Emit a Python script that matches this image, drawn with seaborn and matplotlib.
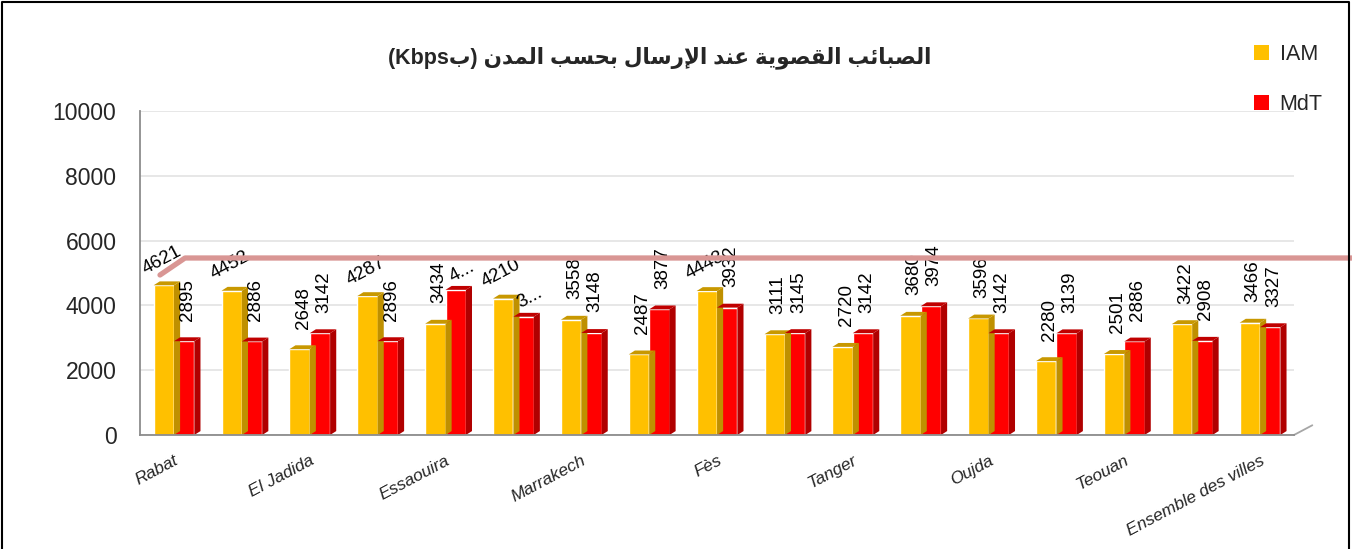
import numpy as np
import pandas as pd
import matplotlib
matplotlib.use("Agg")
import matplotlib.pyplot as plt
import seaborn as sns
from matplotlib.patches import Polygon, Patch
from matplotlib.lines import Line2D

# ---- data ----
city_labels = ["Rabat", "", "El Jadida", "", "Essaouira", "", "Marrakech", "", "Fès", "",
               "Tanger", "", "Oujda", "", "Teouan", "", "Ensemble des villes"]
iam_values = [4621, 4452, 2648, 4287, 3434, 4210, 3558, 2487, 4443, 3111,
              2720, 3680, 3596, 2280, 2501, 3422, 3466]
mdt_values = [2895, 2886, 3142, 2896, 4480, 3650, 3148, 3877, 3932, 3145,
              3142, 3974, 3142, 3139, 2886, 2908, 3327]
operators = ["IAM", "MdT"]
title_words = ["الصبائب", "القصوية", "عند", "الإرسال", "بحسب", "المدن"]

# data labels that Excel drew slanted / truncated
slanted = {("IAM", 0), ("IAM", 1), ("IAM", 3), ("IAM", 5), ("IAM", 8), ("MdT", 4), ("MdT", 5)}
truncated = {("MdT", 4): "4...", ("MdT", 5): "3..."}

# ---- tiny Arabic shaper (matplotlib has no complex text layout) ----
AR_FORMS = {  # isolated, final, initial, medial
    'ا': ('\uFE8D', '\uFE8E', None, None),
    'إ': ('\uFE87', '\uFE88', None, None),
    'ب': ('\uFE8F', '\uFE90', '\uFE91', '\uFE92'),
    'ة': ('\uFE93', '\uFE94', None, None),
    'ح': ('\uFEA1', '\uFEA2', '\uFEA3', '\uFEA4'),
    'د': ('\uFEA9', '\uFEAA', None, None),
    'ر': ('\uFEAD', '\uFEAE', None, None),
    'س': ('\uFEB1', '\uFEB2', '\uFEB3', '\uFEB4'),
    'ص': ('\uFEB9', '\uFEBA', '\uFEBB', '\uFEBC'),
    'ع': ('\uFEC9', '\uFECA', '\uFECB', '\uFECC'),
    'ق': ('\uFED5', '\uFED6', '\uFED7', '\uFED8'),
    'ل': ('\uFEDD', '\uFEDE', '\uFEDF', '\uFEE0'),
    'م': ('\uFEE1', '\uFEE2', '\uFEE3', '\uFEE4'),
    'ن': ('\uFEE5', '\uFEE6', '\uFEE7', '\uFEE8'),
    'و': ('\uFEED', '\uFEEE', None, None),
    'ي': ('\uFEF1', '\uFEF2', '\uFEF3', '\uFEF4'),
    'ئ': ('\uFE89', '\uFE8A', '\uFE8B', '\uFE8C'),
}
LAM_ALEF = {'ا': ('\uFEFB', '\uFEFC'), 'إ': ('\uFEF9', '\uFEFA')}


def shape_word(word):
    units = []
    i = 0
    while i < len(word):
        if word[i] == 'ل' and i + 1 < len(word) and word[i + 1] in LAM_ALEF:
            units.append(('LA', word[i + 1]))
            i += 2
        else:
            units.append((word[i], None))
            i += 1

    def dual(u):
        return u[0] != 'LA' and u[0] in AR_FORMS and AR_FORMS[u[0]][2] is not None

    def joins(u):
        return u[0] == 'LA' or u[0] in AR_FORMS

    out = []
    for k, u in enumerate(units):
        prev_j = k > 0 and dual(units[k - 1]) and joins(u)
        next_j = k + 1 < len(units) and dual(u) and joins(units[k + 1])
        if u[0] == 'LA':
            out.append(LAM_ALEF[u[1]][1 if prev_j else 0])
        elif u[0] in AR_FORMS:
            f = AR_FORMS[u[0]]
            if prev_j and next_j:
                out.append(f[3])
            elif prev_j:
                out.append(f[1])
            elif next_j:
                out.append(f[2])
            else:
                out.append(f[0])
        else:
            out.append(u[0])
    return ''.join(reversed(out))


title_visual = "(Kbps" + shape_word("ب") + ") " + " ".join(shape_word(w) for w in reversed(title_words))

# ---- tidy frame ----
slots = [str(i) for i in range(len(city_labels))]
df = pd.DataFrame({
    "slot": slots * 2,
    "operator": ["IAM"] * len(slots) + ["MdT"] * len(slots),
    "value": iam_values + mdt_values,
})

colors = {"IAM": "#FFC000", "MdT": "#FF0000"}
side_colors = {"IAM": "#BF9000", "MdT": "#B00000"}
top_colors = {"IAM": "#C89800", "MdT": "#C00000"}

sns.set_style("white")
plt.rcParams['font.family'] = ['Liberation Sans', 'DejaVu Sans']

fig = plt.figure(figsize=(13.52, 5.49), dpi=100)
ax = fig.add_axes([0.1036, 0.2077, 0.8535, 0.5901])

sns.barplot(data=df, x="slot", y="value", hue="operator", order=slots,
            hue_order=operators, palette=colors, width=0.6, saturation=1,
            legend=False, ax=ax)

ax.set_xlim(-0.5, len(slots) - 0.5)
ax.set_ylim(0, 10000)
ax.set_yticks(np.arange(0, 10001, 2000))
ax.yaxis.grid(True, color="#E3E3E3", lw=1.2)
ax.set_axisbelow(True)

# fake 3D side and top faces, derived from each bar patch
dx, dy = 0.09, 120
for op, container in zip(operators, ax.containers):
    for bar in container:
        x0, w, h = bar.get_x(), bar.get_width(), bar.get_height()
        x1 = x0 + w
        ax.add_patch(Polygon([(x1, 0), (x1 + dx, dy), (x1 + dx, h + dy), (x1, h)],
                             closed=True, color=side_colors[op], lw=0, zorder=bar.get_zorder()))
        ax.add_patch(Polygon([(x0, h), (x0 + dx, h + dy), (x1 + dx, h + dy), (x1, h)],
                             closed=True, color=top_colors[op], lw=0, zorder=bar.get_zorder()))

# data labels
for op, container in zip(operators, ax.containers):
    for i, bar in enumerate(container):
        v = int(bar.get_height())
        txt = truncated.get((op, i), str(v))
        cx = bar.get_x() + bar.get_width() / 2 + 0.03
        if (op, i) in slanted:
            off = (6, 5) if op == "MdT" else (0, 10)
            ax.annotate(txt, (cx, v + dy), xytext=off, textcoords="offset points",
                        rotation=28, ha="center", va="bottom", fontsize=13.5,
                        rotation_mode="anchor", color="black")
        else:
            ax.annotate(txt, (cx, v + dy), xytext=(1, 12), textcoords="offset points",
                        rotation=90, ha="center", va="bottom", fontsize=13.5, color="black")

# axes styling
for s in ["top", "right"]:
    ax.spines[s].set_visible(False)
for s in ["left", "bottom"]:
    ax.spines[s].set_color("#8C8C8C")
    ax.spines[s].set_linewidth(1.3)
ax.tick_params(axis="y", length=5, width=1.2, color="#8C8C8C", labelsize=16.5, pad=12)
ax.set_xticks(range(len(slots)))
ax.set_xticklabels(city_labels, rotation=28, ha="right", rotation_mode="anchor",
                   fontsize=12.5, fontstyle="italic")
ax.tick_params(axis="x", length=0, pad=13)
ax.set_xticks(np.arange(-0.5, len(slots), 1), minor=True)
ax.tick_params(axis="x", which="minor", length=5, width=1.2, color="#8C8C8C")
ax.set_xlabel("")
ax.set_ylabel("")

# 3D floor edge on the right
ax.plot([len(slots) - 0.5, len(slots) - 0.5 + 0.27], [0, 300], color="#A6A6A6", lw=1.3,
        clip_on=False)

# title
fig.text(0.488, 0.895, title_visual, ha="center", va="center", fontsize=15.5,
         fontweight="bold", family=['Liberation Sans', 'DejaVu Sans'])

# legend
handles = [Patch(facecolor=colors[o], edgecolor="none", label=o) for o in operators]
fig.legend(handles=handles, loc="upper left", bbox_to_anchor=(0.913, 0.955),
           frameon=False, fontsize=15.5, handlelength=0.7, handleheight=0.7,
           handletextpad=0.5, labelspacing=1.35)

# decorative pink connector line from the original
fig.add_artist(Line2D([160 / 1352, 185 / 1352, 1.0],
                      [1 - 275 / 549, 1 - 258 / 549, 1 - 258 / 549],
                      color="#D99694", lw=3.8, transform=fig.transFigure))

# outer border
fig.add_artist(Line2D([0.0015, 0.0015, 0.998, 0.998], [0, 0.997, 0.997, 0],
                      color="black", lw=1.5, transform=fig.transFigure))

fig.savefig("out.png", dpi=100, facecolor="white")
